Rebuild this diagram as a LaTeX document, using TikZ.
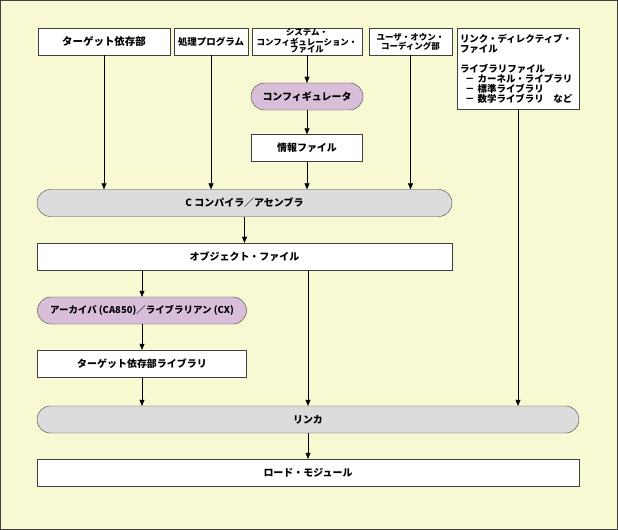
\documentclass[tikz,border=0pt]{standalone}
\usepackage{fontspec}
\setmainfont{Noto Sans CJK JP}
\usetikzlibrary{arrows.meta}
\definecolor{bgyellow}{RGB}{248,248,210}
\definecolor{framegray}{RGB}{64,64,64}
\definecolor{procpurple}{RGB}{216,190,216}
\definecolor{toolgray}{RGB}{220,220,220}
\begin{document}
\begin{tikzpicture}[x=1bp, y=-1bp,
    box/.style={draw=framegray, fill=white, minimum height=27bp, inner sep=1bp,
                font=\fontsize{10}{11}\selectfont\bfseries},
    procnode/.style={box, fill=procpurple, rounded corners=13.5bp},
    toolnode/.style={box, fill=toolgray, rounded corners=13.5bp},
    flow/.style={-{Triangle[length=6bp,width=5bp]}, black}]
        % Background and frame
        \useasboundingbox (0,0) rectangle (618,530);
        \draw[framegray, fill=bgyellow, line width=1bp] (0.5,0.5) rectangle (617.5,529.5);

        % Inputs on top
        \node[box, minimum width=132bp, font=\fontsize{10.5}{12}\selectfont\bfseries] (tdep) at (104,41.5) {ターゲット依存部};
        \node[box, minimum width=74bp, font=\fontsize{9.5}{11}\selectfont\bfseries] (proc) at (211,41.5) {処理プログラム};
        \node[box, minimum width=110bp, inner sep=0pt, align=center,
              font=\fontsize{8.5}{8}\selectfont\bfseries] (sysc) at (307,41.5)
              {システム・\\コンフィギュレーション・\\ファイル};
        \node[box, minimum width=83bp, inner sep=0pt, align=center,
              font=\fontsize{8.5}{9}\selectfont\bfseries] (user) at (410.5,41.5)
              {ユーザ・オウン・\\コーディング部};
        \node[box, minimum width=122bp, minimum height=81bp, text width=116bp,
              inner sep=3bp, align=left, font=\fontsize{9.5}{10}\selectfont\bfseries] (ldir) at (518,68.5)
              {リンク・ディレクティブ・\\ファイル\\[10bp]
               ライブラリファイル\\
               \hspace*{5bp}－ カーネル・ライブラリ\\
               \hspace*{5bp}－ 標準ライブラリ\\
               \hspace*{5bp}－ 数学ライブラリ　など};

        % Configurator chain
        \node[procnode, minimum width=112bp] (conf) at (307,96.5) {コンフィギュレータ};
        \node[box, minimum width=111bp] (info) at (307,148) {情報ファイル};

        % Compiler and objects
        \node[toolnode, minimum width=415bp] (comp) at (244.5,203) {C コンパイラ／アセンブラ};
        \node[box, minimum width=415bp] (obj) at (244.5,256.5) {オブジェクト・ファイル};
        \node[procnode, minimum width=209bp, font=\fontsize{9.5}{11}\selectfont\bfseries] (arch) at (142,310.5) {アーカイバ (CA850)／ライブラリアン (CX)};
        \node[box, minimum width=209bp] (tlib) at (142,363.5) {ターゲット依存部ライブラリ};

        % Linker and result
        \node[toolnode, minimum width=542bp] (link) at (308,419.5) {リンカ};
        \node[box, minimum width=542bp] (load) at (308,472.5) {ロード・モジュール};

        % Arrows
        \draw[flow] (tdep) -- (tdep |- comp.north);
        \draw[flow] (proc) -- (proc |- comp.north);
        \draw[flow] (sysc) -- (sysc |- conf.north);
        \draw[flow] (conf) -- (conf |- info.north);
        \draw[flow] (info) -- (info |- comp.north);
        \draw[flow] (user) -- (user |- comp.north);
        \draw[flow] (ldir) -- (ldir |- link.north);
        \draw[flow] (comp) -- (comp |- obj.north);
        \draw[flow] (arch |- obj.south) -- (arch);
        \draw[flow] (arch) -- (arch |- tlib.north);
        \draw[flow] (tlib) -- (tlib |- link.north);
        \draw[flow] (link |- obj.south) -- (link);
        \draw[flow] (link) -- (link |- load.north);
\end{tikzpicture}
\end{document}
